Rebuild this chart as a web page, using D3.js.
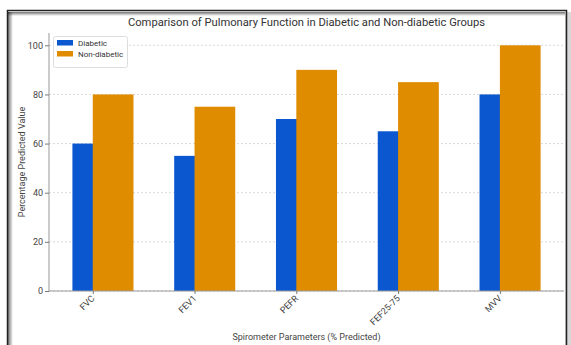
<!DOCTYPE html>
<html><head><meta charset="utf-8">
<script src="https://cdn.jsdelivr.net/npm/d3@7"></script>
<style>body{margin:0;background:#fff}svg{display:block}text{font-family:Roboto,"Open Sans",sans-serif}</style>
</head><body>
<svg id="c" width="571" height="345"></svg>
<script>
const categories = ["FVC","FEV1","PEFR","FEF25-75","MVV"];
const diabetic = [60,55,70,65,80];
const nonDiabetic = [80,75,90,85,100];
const yTicks = [0,20,40,60,80,100];
const seriesNames = ["Diabetic","Non-diabetic"];
const colors = ["#0b57d0","#e08c00"];

const svg = d3.select("#c");
const W=571,H=345;
const m={l:49,r:564,t:33,b:291};

// frame with inner shadow
const defs = svg.append("defs");
const gl = defs.append("linearGradient").attr("id","gl").attr("x1",0).attr("x2",1);
gl.append("stop").attr("offset",0).attr("stop-color","#000").attr("stop-opacity",0.55);
gl.append("stop").attr("offset",1).attr("stop-color","#000").attr("stop-opacity",0);
const gt = defs.append("linearGradient").attr("id","gt").attr("x1",0).attr("x2",0).attr("y1",0).attr("y2",1);
gt.append("stop").attr("offset",0).attr("stop-color","#000").attr("stop-opacity",0.55);
gt.append("stop").attr("offset",1).attr("stop-color","#000").attr("stop-opacity",0);
svg.append("rect").attr("x",0).attr("y",0).attr("width",W).attr("height",H).attr("fill","#fff");
svg.append("rect").attr("x",8).attr("y",12).attr("width",5).attr("height",H-12).attr("fill","url(#gl)");
svg.append("rect").attr("x",8).attr("y",12).attr("width",558).attr("height",4).attr("fill","url(#gt)");
svg.append("rect").attr("x",565).attr("y",12).attr("width",6).attr("height",H-12).attr("fill","#d8d8d8");
svg.append("path").attr("d",`M7.5,${H} V10.5 H566.5 V${H}`).attr("fill","none").attr("stroke","#222").attr("stroke-width",1.5);

const x = d3.scaleLinear().domain([-0.43,4.63]).range([m.l,m.r]);
const y = d3.scaleLinear().domain([0,105]).range([m.b,m.t]);
const bw = 0.4;

// grid
svg.append("g").selectAll("line").data(yTicks).join("line")
  .attr("x1",m.l).attr("x2",m.r).attr("y1",d=>y(d)).attr("y2",d=>y(d))
  .attr("stroke","#cfcfcf").attr("stroke-width",0.8).attr("stroke-dasharray","2,2");

// bars
svg.append("g").selectAll("rect").data(diabetic).join("rect")
  .attr("x",(d,i)=>x(i-bw/2)).attr("width",x(bw)-x(0))
  .attr("y",d=>y(d)).attr("height",d=>y(0)-y(d)).attr("fill",colors[0]);
svg.append("g").selectAll("rect").data(nonDiabetic).join("rect")
  .attr("x",(d,i)=>x(i)).attr("width",x(bw)-x(0))
  .attr("y",d=>y(d)).attr("height",d=>y(0)-y(d)).attr("fill",colors[1]);

// axes
const yAxis = d3.axisLeft(y).tickValues(yTicks).tickSize(4).tickPadding(2);
const gy = svg.append("g").attr("transform",`translate(${m.l},0)`).call(yAxis);
gy.select(".domain").attr("stroke","#999").attr("d",`M0,${m.t}V${m.b}`);
gy.selectAll(".tick line").attr("stroke","#777");
gy.selectAll("text").attr("fill","#444").style("font-size","9px");

const xAxis = d3.axisBottom(x).tickValues(d3.range(categories.length)).tickFormat(i=>categories[i]).tickSize(3);
const gx = svg.append("g").attr("transform",`translate(0,${m.b})`).call(xAxis);
gx.select(".domain").attr("stroke","#999").attr("d",`M${m.l},0H${m.r}`);
gx.selectAll(".tick line").attr("stroke","#777");
gx.selectAll("text").attr("fill","#444").style("font-size","9px")
  .attr("text-anchor","end").attr("dy",null).attr("y",0)
  .attr("transform","translate(2,8) rotate(-45)");

// title & labels
svg.append("text").attr("x",(m.l+m.r)/2).attr("y",26).attr("text-anchor","middle")
  .attr("fill","#333").style("font-size","11.2px").text("Comparison of Pulmonary Function in Diabetic and Non-diabetic Groups");
svg.append("text").attr("x",(m.l+m.r)/2).attr("y",340).attr("text-anchor","middle")
  .attr("fill","#444").style("font-size","9px").text("Spirometer Parameters (% Predicted)");
svg.append("text").attr("transform",`translate(25,${(m.t+m.b)/2}) rotate(-90)`).attr("text-anchor","middle")
  .attr("fill","#444").style("font-size","9px").text("Percentage Predicted Value");

// legend
const lg = svg.append("g");
lg.append("rect").attr("x",53.5).attr("y",36.5).attr("width",74).attr("height",31).attr("rx",2)
  .attr("fill","#fff").attr("fill-opacity",0.8).attr("stroke","#ddd");
seriesNames.forEach((n,i)=>{
  lg.append("rect").attr("x",57).attr("y",40+i*11).attr("width",16).attr("height",5.5).attr("fill",colors[i]);
  lg.append("text").attr("x",78).attr("y",45.8+i*11).attr("fill","#333").style("font-size","8px").text(n);
});
</script>
</body></html>
